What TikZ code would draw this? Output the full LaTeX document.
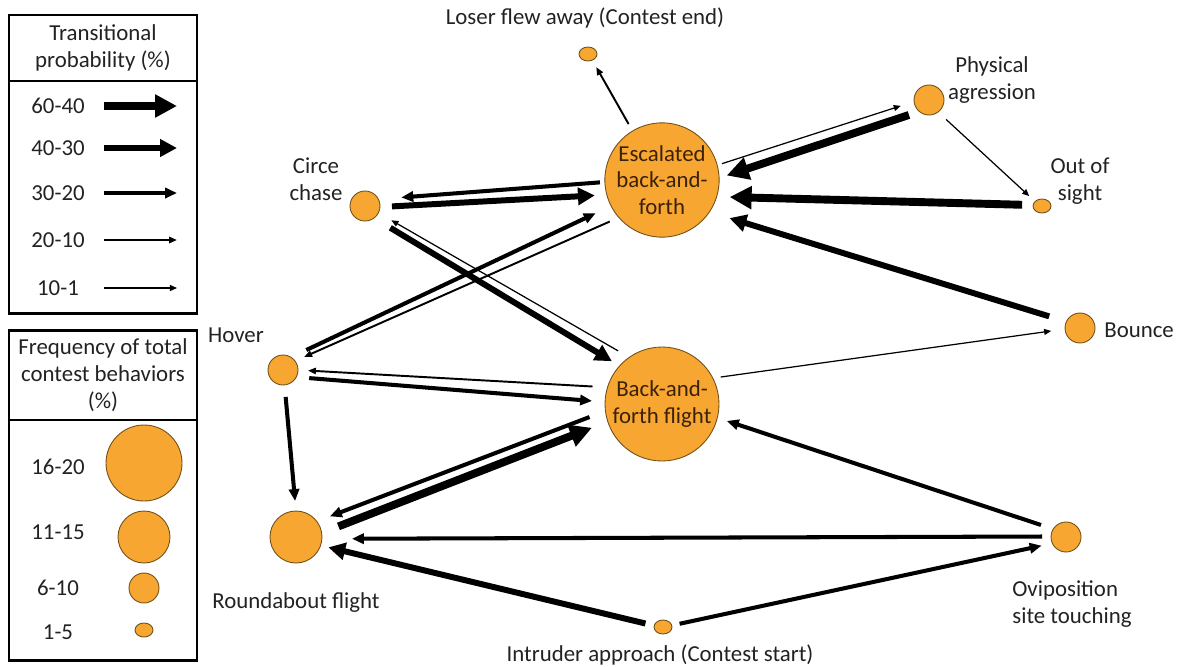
\documentclass[tikz,border=0pt]{standalone}
\usepackage{fontspec}
\setmainfont{Carlito}
\usepackage{xcolor}
\usepackage{tikz}
\usetikzlibrary{arrows.meta,shapes.geometric}
\definecolor{bhvOrange}{HTML}{F8A632}
\definecolor{bhvEdge}{HTML}{6E5018}
\definecolor{bhvText}{HTML}{3A2208}
\definecolor{bhvInk}{HTML}{222222}
\newlength{\pxu}
\setlength{\pxu}{0.2mm}

\tikzset{
  bhv/.style={circle, draw=bhvEdge, line width=0.5pt, fill=bhvOrange,
    inner sep=0pt, outer sep=0pt, minimum size=#1\pxu},
  bhvsmall/.style={ellipse, draw=bhvEdge, line width=0.5pt, fill=bhvOrange,
    inner sep=0pt, outer sep=0pt, minimum width=18\pxu, minimum height=14\pxu},
  lbl/.style={align=center, inner sep=0pt, text=bhvInk},
  p60/.style={line width=4.5pt, -{Triangle[length=12.5pt,width=12.5pt]}},
  p40/.style={line width=3.4pt, -{Triangle[length=9.6pt,width=9.6pt]}},
  p30/.style={line width=2.3pt, -{Triangle[length=6.8pt,width=5.8pt]}},
  p20/.style={line width=1.1pt, -{Triangle[length=4.5pt,width=3.6pt]}},
  p10/.style={line width=0.7pt, -{Triangle[length=4pt,width=3.4pt]}},
  gap/.style 2 args={shorten <=#1\pxu, shorten >=#2\pxu},
}

\begin{document}
\begin{tikzpicture}[x=0.2mm, y=-0.2mm, font=\fontsize{13}{15.2}\selectfont]
  \useasboundingbox (0,0) rectangle (1181,666);

  % legend: transitional probability
  \draw[line width=1.7pt] (9,15) rectangle (197,313);
  \draw[line width=0.9pt] (9,81) -- (197,81);
  \node[lbl] (tphead) at (103,48) {Transitional\\probability (\%)};
  \foreach \lab/\yy/\sty [count=\i] in {60-40/106/p60, 40-30/148/p40,
      30-20/193/p30, 20-10/240/p20, 10-1/288/p10} {
    \node[lbl] (tp\i) at (58,\yy) {\lab};
    \draw[\sty] (104,\yy) -- (177,\yy);
  }

  % legend: frequency
  \draw[line width=1.7pt] (9,330) rectangle (197,660);
  \draw[line width=0.9pt] (9,420) -- (197,420);
  \node[lbl] (fqhead) at (103,375) {Frequency of total\\contest behaviors\\(\%)};
  \node[lbl] (fq1) at (58,467) {16-20};
  \node[bhv=76] (fc1) at (144,463) {};
  \node[lbl] (fq2) at (58,532) {11-15};
  \node[bhv=52] (fc2) at (144,537) {};
  \node[lbl] (fq3) at (58,588) {6-10};
  \node[bhv=30] (fc3) at (144,588) {};
  \node[lbl] (fq4) at (58,632) {1-5};
  \node[bhvsmall] (fc4) at (144,630) {};

  % behaviours
  \node[bhv=110, align=center, text=bhvText] (esc) at (662,180)
    {Escalated\\back-and-\\forth};
  \node[bhv=114, align=center, text=bhvText] (baf) at (662,404)
    {Back-and-\\forth flight};
  \node[bhvsmall] (lose) at (588,54) {};
  \node[bhv=30] (phys) at (929,100) {};
  \node[bhvsmall] (out) at (1042,206) {};
  \node[bhv=30] (circ) at (365,206) {};
  \node[bhv=30] (hov) at (283,370) {};
  \node[bhv=30] (bnc) at (1080,328) {};
  \node[bhv=52] (rnd) at (296,537) {};
  \node[bhv=30] (ovi) at (1066,537) {};
  \node[bhvsmall] (intr) at (663,627) {};

  \node[lbl] (loselbl) at (585,18) {Loser flew away (Contest end)};
  \node[lbl] (physlbl) at (992,80) {Physical\\agression};
  \node[lbl] (outlbl) at (1080,181) {Out of\\sight};
  \node[lbl] (circlbl) at (316,179) {Circe\\chase};
  \node[lbl] (hovlbl) at (236,335) {Hover};
  \node[lbl, anchor=west] (bnclbl) at (1104,330) {Bounce};
  \node[lbl] (rndlbl) at (296,603) {Roundabout flight};
  \node[lbl, anchor=west, align=left] (ovilbl) at (1012,604)
    {Oviposition\\site touching};
  \node[lbl] (intrlbl) at (660,655) {Intruder approach (Contest start)};

  % transitions
  \draw[p20, gap={8}{8}] (esc.121) -- (lose.-55);
  \draw[p10, gap={5}{14}] (esc.15) -- (phys.186);
  \draw[p60, gap={11}{8}] (phys.230) -- (esc.2);
  \draw[p60, gap={11}{13}] (out.174) -- (esc.-17);
  \draw[p10, gap={11}{8}] (phys.-53) -- (out.147);
  \draw[p40, gap={18}{21}] (bnc.155) -- (esc.-34);
  \draw[p30, gap={5}{23}] (esc.182) -- (circ.27);
  \draw[p40, gap={12}{12}] (circ.-4) -- (esc.195);
  \draw[p40, gap={19}{9}] (circ.-53) -- (baf.138);
  \draw[p10, gap={13}{15}] (baf.125) -- (circ.-27);
  \draw[p30, gap={17}{17}] (hov.58) -- (esc.207);
  \draw[p20, gap={10}{10}] (esc.221) -- (hov.37);
  \draw[p20, gap={15}{10}] (baf.163) -- (hov.0);
  \draw[p30, gap={13}{13}] (hov.-28) -- (baf.178);
  \draw[p30, gap={12}{10}] (hov.-84) -- (rnd.90);
  \draw[p30, gap={17}{14}] (baf.187) -- (rnd.37);
  \draw[p60, gap={18}{17}] (rnd.9) -- (baf.198);
  \draw[p30, gap={9}{30}] (ovi.178) -- (rnd.-4);
  \draw[p40, gap={9}{8}] (intr.171) -- (rnd.-19);
  \draw[p30, gap={8}{11}] (intr.10) -- (ovi.205);
  \draw[p30, gap={13}{10}] (ovi.148) -- (baf.-14);
  \draw[p10, gap={8}{14}] (baf.27) -- (bnc.184);
\end{tikzpicture}
\end{document}
